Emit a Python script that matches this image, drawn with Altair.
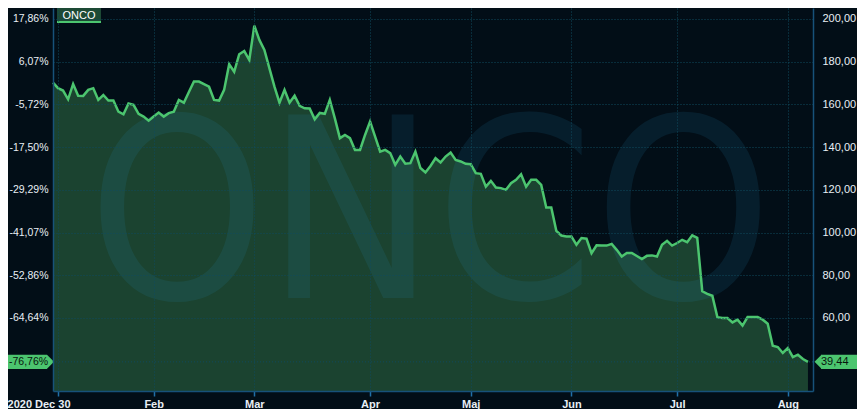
import altair as alt
import pandas as pd

# ---- data (daily closes, trading-day index) ----
prices = [170.2, 167.6, 166.5, 162.4, 169.6, 164.1, 164.0, 166.8, 167.6, 162.1,
          164.4, 161.8, 161.8, 156.6, 155.4, 160.4, 159.8, 155.6, 154.3, 152.4,
          154.3, 156.2, 154.3, 155.9, 156.6, 162.1, 160.8, 165.8, 170.7, 170.7,
          169.5, 168.3, 162.1, 161.8, 166.8, 178.8, 175.3, 183.5, 185.0, 180.8,
          196.9, 190.2, 185.5, 176.9, 168.3, 160.8, 166.8, 160.8, 164.1, 159.3,
          158.2, 158.1, 153.0, 156.0, 155.6, 162.1, 153.5, 144.2, 145.7, 144.2,
          138.7, 138.7, 145.7, 152.0, 144.9, 137.9, 138.7, 137.2, 131.7, 135.6,
          132.2, 132.5, 137.9, 130.2, 128.1, 131.2, 134.8, 132.8, 135.6, 137.5,
          134.0, 133.3, 132.2, 132.0, 127.8, 127.5, 121.5, 124.2, 121.1, 120.8,
          120.0, 123.1, 124.7, 127.3, 121.5, 124.7, 124.7, 122.3, 111.7, 111.7,
          100.8, 98.6, 98.2, 98.2, 94.3, 97.4, 97.1, 90.3, 94.0, 93.9,
          93.9, 94.7, 91.9, 88.8, 90.4, 90.4, 89.0, 87.6, 89.1, 89.3,
          88.8, 94.3, 96.1, 93.9, 95.1, 96.6, 95.5, 98.7, 97.5, 72.5,
          71.3, 70.4, 60.4, 60.0, 60.0, 57.9, 59.2, 56.4, 60.4, 60.4,
          60.4, 59.2, 57.3, 47.0, 46.4, 43.6, 45.9, 41.7, 42.8, 40.8,
          39.44]
base_price = 169.7
x_tick_days = [1, 20, 40, 63, 83, 103, 124, 146]
x_tick_labels = ["2020 Dec 30", "Feb", "Mar", "Apr", "Maj", "Jun", "Jul", "Aug"]
y_ticks = [200, 180, 160, 140, 120, 100, 80, 60]
ticker = "ONCO"

df = pd.DataFrame({"day": list(range(len(prices))), "price": prices})
last_day = len(prices) - 1

# ---- style ----
BG = "#020e17"
AREA = "#1b4330"
LINE = "#4cc56f"
GRID = "#0f4a5e"
BORDER = "#17527a"
TICK = "#2070a8"
LABEL = "#e8eef5"
DARK = "#08160e"
FONT = "Liberation Sans"
W, H = 760, 383

x_scale = alt.Scale(domain=[0, 151], nice=False, zero=False)
y_scale = alt.Scale(domain=[25.8, 205.15], nice=False, zero=False)

xlab_expr = "[" + ",".join(f"'{s}'" for s in x_tick_labels) + "][indexof([" + \
    ",".join(str(v) for v in x_tick_days) + "], datum.value)]"

x_axis = alt.Axis(
    values=x_tick_days, labelExpr=xlab_expr, title=None,
    grid=True, gridDash=[1, 2], gridColor=GRID, gridWidth=1,
    domainColor=BORDER, domainWidth=1.5, tickColor=TICK, tickSize=5, tickWidth=1.5,
    labelColor=LABEL, labelFont=FONT, labelFontSize=11, labelFontWeight="bold",
    labelPadding=2, labelFlush=False, labelOverlap=False,
    labelAlign={"condition": {"test": f"datum.value == {x_tick_days[0]}", "value": "right"}, "value": "center"},
    labelOffset={"condition": {"test": f"datum.value == {x_tick_days[0]}", "value": 12}, "value": 0},
    zindex=1,
)
X = alt.X("day:Q", scale=x_scale, axis=x_axis)

pct_expr = f"(datum.value/{base_price}-1 < 0 ? '-' : '') + replace(format(abs(datum.value/{base_price}-1), '.2%'), '.', ',')"
left_axis = alt.Axis(
    orient="left", values=y_ticks, labelExpr=pct_expr, title=None,
    grid=True, gridDash=[1, 2], gridColor=GRID, gridWidth=1,
    domainColor=BORDER, domainWidth=1.5, ticks=False,
    labelColor=LABEL, labelFont=FONT, labelFontSize=10.5, labelPadding=5,
    zindex=1,
)
right_axis = alt.Axis(
    orient="right", values=y_ticks, labelExpr="replace(format(datum.value, '.2f'), '.', ',')",
    title=None, grid=False, domainColor=BORDER, domainWidth=1.5, ticks=False,
    labelColor=LABEL, labelFont=FONT, labelFontSize=11, labelPadding=9, zindex=1,
)

base = alt.Chart(df)

area = base.mark_area(color=AREA, clip=True, opacity=1).encode(
    x=X, y=alt.Y("price:Q", scale=y_scale, axis=left_axis))

one = alt.Chart(pd.DataFrame({"t": [ticker]}))
watermark = one.mark_text(
    font="DejaVu Sans Condensed, Liberation Sans Narrow, Liberation Sans, sans-serif",
    fontSize=252, color="#2592c4", opacity=0.12,
    align="center", baseline="alphabetic").encode(
    x=alt.value(W / 2 - 3), y=alt.value(290), text="t:N")

line = base.mark_line(color=LINE, strokeWidth=2.5).encode(
    x=X, y=alt.Y("price:Q", scale=y_scale, axis=right_axis))

last = base.transform_filter(f"datum.day == {last_day}").transform_calculate(
    top="datum.price + 3.3", bot="datum.price - 3.3",
    plabel="replace(format(datum.price, '.2f'), '.', ',')",
    pctlabel=f"(datum.price/{base_price}-1 < 0 ? '-' : '') + replace(format(abs(datum.price/{base_price}-1), '.2%'), '.', ',')",
)
Yn = lambda f: alt.Y(f, scale=y_scale, axis=None)

last_rule = last.mark_rule(color=GRID, strokeDash=[1, 2], strokeWidth=1).encode(y=Yn("price:Q"))

r_box = last.mark_rect(color=LINE).encode(
    x=alt.value(768), x2=alt.value(806), y=Yn("top:Q"), y2=alt.Y2("bot:Q"))
r_tip = last.mark_point(shape="M -0.5 0 L 0.5 -1 L 0.5 1 Z", filled=True, size=196,
                        color=LINE, opacity=1, strokeWidth=0).encode(
    x=alt.value(765), y=Yn("price:Q"))
r_txt = last.mark_text(align="left", baseline="middle", color=DARK, font=FONT,
                       fontSize=11).encode(
    x=alt.value(768), y=Yn("price:Q"), text="plabel:N")

l_box = last.mark_rect(color=LINE).encode(
    x=alt.value(-46), x2=alt.value(-6), y=Yn("top:Q"), y2=alt.Y2("bot:Q"))
l_tip = last.mark_point(shape="M 0.5 0 L -0.5 -1 L -0.5 1 Z", filled=True, size=196,
                        color=LINE, opacity=1, strokeWidth=0).encode(
    x=alt.value(-2.5), y=Yn("price:Q"))
l_txt = last.mark_text(align="center", baseline="middle", color=DARK, font=FONT,
                       fontSize=10.5).encode(
    x=alt.value(-24.5), y=Yn("price:Q"), text="pctlabel:N")

leg_box = one.mark_rect(color="#1d4a35").encode(
    x=alt.value(4), x2=alt.value(48), y=alt.value(0), y2=alt.value(13))
leg_bar = one.mark_rect(color=LINE).encode(
    x=alt.value(4), x2=alt.value(48), y=alt.value(13), y2=alt.value(15))
leg_txt = one.mark_text(color="#ffffff", font=FONT, fontSize=11, align="center",
                        baseline="middle").encode(
    x=alt.value(26), y=alt.value(7.5), text="t:N")

chart = alt.layer(
    area, watermark, last_rule, line, r_box, r_tip, r_txt, l_box, l_tip, l_txt,
    leg_box, leg_bar, leg_txt,
).resolve_axis(y="independent").properties(
    width=W, height=H,
    autosize=alt.AutoSizeParams(type="none"),
    padding={"left": 45, "top": 0, "right": 44, "bottom": 18},
    background=BG,
).configure_view(stroke=None, fill=BG)

chart.save("out.html", embed_options={"renderer": "svg", "actions": False})
